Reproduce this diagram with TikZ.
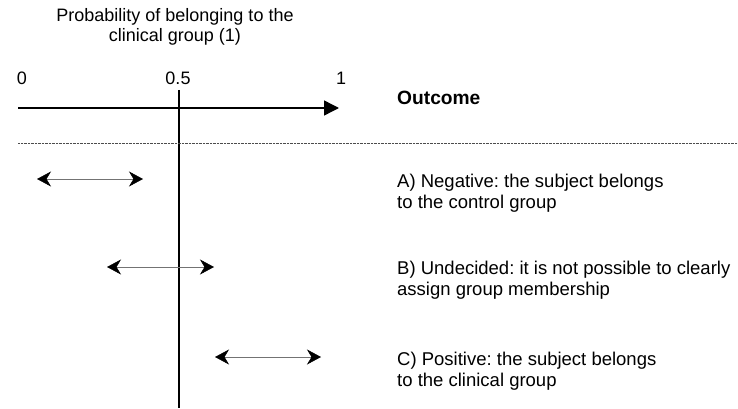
\documentclass[tikz,border=0pt]{standalone}
\usepackage{fontspec}
\setmainfont{Liberation Sans}
\usetikzlibrary{arrows.meta}
\frenchspacing
\begin{document}
\begin{tikzpicture}[x=1pt,y=-1pt,
  lbl/.style={font=\fontsize{18.5}{21.5}\selectfont, inner sep=0pt, align=left, anchor=west},
  ctr/.style={font=\fontsize{18}{20}\selectfont, inner sep=0pt, align=center},
  rangearrow/.style={line width=0.6pt, draw=black!55, {Stealth[length=14pt,width=15pt,inset=4.5pt,color=black]}-{Stealth[length=14pt,width=15pt,inset=4.5pt,color=black]}},
  axisline/.style={line width=1.4pt, -{Triangle[length=15pt,width=15pt]}},
  sepline/.style={line width=0.7pt, draw=black!70, dash pattern=on 0.7pt off 0.7pt}
]
\useasboundingbox (0,0) rectangle (738,409);
\node[ctr] (title) at (175,27) {Probability of belonging to the\\clinical group (1)};
\node[ctr] (n0) at (22,78) {0};
\node[ctr] (n05) at (178,78) {0.5};
\node[ctr] (n1) at (341,78) {1};
\node[lbl, font=\fontsize{19.2}{21.5}\selectfont\bfseries] (out) at (397,98) {Outcome};
\coordinate (ax0) at (18,108);
\coordinate (ax1) at (339,108);
\draw[axisline] (ax0) -- (ax1);
\coordinate (vt) at (179,90);
\coordinate (vb) at (179,408);
\draw[line width=1.4pt] (vt) -- (vb);
\coordinate (d0) at (18,143.5);
\coordinate (d1) at (738,143.5);
\draw[sepline] (d0) -- (d1);
\coordinate (a0) at (37,179); \coordinate (a1) at (143,179);
\coordinate (b0) at (107,267); \coordinate (b1) at (214,267);
\coordinate (c0) at (215,357); \coordinate (c1) at (321,357);
\draw[rangearrow] (a0) -- (a1);
\draw[rangearrow] (b0) -- (b1);
\draw[rangearrow] (c0) -- (c1);
\node[lbl] (A) at (397,193) {A) Negative: the subject belongs\\to the control group};
\node[lbl] (B) at (397,280) {B) Undecided: it is not possible to clearly\\assign group membership};
\node[lbl] (C) at (397,371) {C) Positive: the subject belongs\\to the clinical group};
\end{tikzpicture}
\end{document}
